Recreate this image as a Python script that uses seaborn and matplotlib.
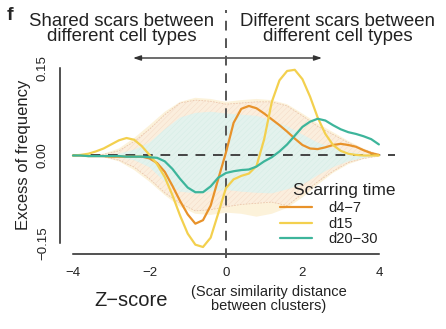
import numpy as np
import pandas as pd
import matplotlib
matplotlib.use("Agg")
import matplotlib.pyplot as plt
import seaborn as sns

# ---------------- data ----------------
z = [-4.0, -3.8, -3.6, -3.4, -3.2, -3.0, -2.8, -2.6, -2.4, -2.2, -2.0, -1.8, -1.6, -1.4,
     -1.2, -1.0, -0.8, -0.6, -0.4, -0.2, 0.0, 0.2, 0.4, 0.6, 0.8, 1.0, 1.2, 1.4, 1.6, 1.8,
     2.0, 2.2, 2.4, 2.6, 2.8, 3.0, 3.2, 3.4, 3.6, 3.8, 4.0]

d4_7 = [0.000, 0.000, -0.001, -0.001, -0.001, -0.002, -0.002, -0.002, -0.002, -0.002,
        -0.005, -0.013, -0.028, -0.052, -0.078, -0.101, -0.117, -0.111, -0.086, -0.040,
        0.005, 0.056, 0.080, 0.085, 0.081, 0.072, 0.062, 0.052, 0.041, 0.029,
        0.018, 0.012, 0.011, 0.014, 0.018, 0.020, 0.018, 0.015, 0.009, 0.004, 0.001]

d15 = [0.000, 0.001, 0.003, 0.007, 0.012, 0.019, 0.026, 0.030, 0.027, 0.016,
       0.001, -0.015, -0.037, -0.068, -0.103, -0.134, -0.153, -0.157, -0.141, -0.099,
       -0.056, -0.041, -0.035, -0.031, -0.018, 0.028, 0.092, 0.129, 0.145, 0.147,
       0.131, 0.101, 0.065, 0.037, 0.018, 0.008, 0.003, 0.001, 0.000, 0.000, 0.000]

d20_30 = [0.000, 0.000, -0.001, -0.001, -0.001, -0.001, -0.001, -0.002, -0.002, -0.002,
          -0.003, -0.004, -0.010, -0.023, -0.040, -0.055, -0.063, -0.063, -0.053, -0.038,
          -0.030, -0.027, -0.025, -0.024, -0.019, -0.010, -0.003, 0.007, 0.019, 0.034,
          0.049, 0.058, 0.063, 0.060, 0.052, 0.045, 0.040, 0.037, 0.033, 0.028, 0.019]

# null-distribution envelopes
z_band = [-4.0, -3.6, -3.2, -2.8, -2.4, -2.0, -1.6, -1.2, -0.8, -0.4, 0.0, 0.4, 0.8,
          1.2, 1.6, 2.0, 2.4, 2.8, 3.2, 3.6, 4.0]
d15_hi = [0.000, 0.000, 0.003, 0.012, 0.030, 0.052, 0.075, 0.092, 0.099, 0.097, 0.092,
          0.095, 0.097, 0.095, 0.088, 0.072, 0.055, 0.040, 0.025, 0.012, 0.002]
d15_lo = [0.000, 0.000, -0.003, -0.010, -0.025, -0.045, -0.068, -0.088, -0.100, -0.102,
          -0.098, -0.100, -0.105, -0.100, -0.090, -0.072, -0.050, -0.030, -0.015, -0.006, -0.001]
d4_7_hi = [0.000, 0.000, 0.002, 0.008, 0.024, 0.045, 0.070, 0.090, 0.095, 0.093, 0.088,
           0.090, 0.092, 0.092, 0.085, 0.068, 0.050, 0.036, 0.022, 0.010, 0.002]
d4_7_lo = [0.000, 0.000, -0.002, -0.008, -0.020, -0.040, -0.064, -0.082, -0.095, -0.093,
           -0.088, -0.084, -0.082, -0.080, -0.086, -0.066, -0.045, -0.027, -0.012, -0.005, -0.001]
d20_30_hi = [0.000, 0.000, 0.001, 0.003, 0.010, 0.022, 0.045, 0.065, 0.073, 0.075, 0.072,
             0.070, 0.068, 0.060, 0.050, 0.036, 0.022, 0.013, 0.006, 0.002, 0.000]
d20_30_lo = [0.000, 0.000, -0.001, -0.003, -0.008, -0.020, -0.045, -0.062, -0.065, -0.062,
             -0.059, -0.062, -0.064, -0.065, -0.058, -0.050, -0.034, -0.020, -0.010, -0.004, -0.001]

groups = ["d4\u22127", "d15", "d20\u221230"]
colors = ["#E8922A", "#F3D04E", "#3DB59B"]

x_ticks = [-4, -2, 0, 2, 4]
x_ticklabels = ["\u22124", "\u22122", "0", "2", "4"]
y_ticks = [-0.15, 0.0, 0.15]
y_ticklabels = ["\u22120.15", "0.00", "0.15"]

# ---------------- figure ----------------
sns.set_style("white")
plt.rcParams["font.family"] = ["Liberation Sans", "DejaVu Sans"]
plt.rcParams["hatch.linewidth"] = 0.3

W, H = 446, 329
fig = plt.figure(figsize=(W / 100, H / 100), dpi=100)
ax = fig.add_axes([60 / W, 75 / H, 338 / W, 197.6 / H])

xlim = (-4.34, 4.5)
ylim = (-0.169, 0.17)

# envelopes
ax.fill_between(z_band, d15_lo, d15_hi, facecolor="#FCF2DA", edgecolor="none", lw=0, zorder=1)
ax.fill_between(z_band, d4_7_lo, d4_7_hi, facecolor="#FBEEDD", edgecolor="#F4D8C4",
                hatch="//////", lw=0, zorder=2)
ax.plot(z_band, d4_7_hi, color="#EBC6AC", lw=0.6, ls=(0, (2, 1.5)), zorder=2.5)
ax.plot(z_band, d4_7_lo, color="#EBC6AC", lw=0.6, ls=(0, (2, 1.5)), zorder=2.5)
ax.fill_between(z_band, d20_30_lo, d20_30_hi, facecolor="#E3F2ED", edgecolor="#D2ECE3",
                hatch="//////", lw=0, zorder=3)

# reference lines
ax.plot([-4, 4.42], [0, 0], color="#444444", lw=1.4, ls=(0, (5, 4)), zorder=4)
ax.plot([0, 0], [-0.176, 0.25], color="#555555", lw=1.4, ls=(0, (5, 4)),
        zorder=4, clip_on=False)

# curves
df = pd.DataFrame({
    "z": z * 3,
    "value": d4_7 + d15 + d20_30,
    "group": [groups[0]] * len(z) + [groups[1]] * len(z) + [groups[2]] * len(z),
})
sns.lineplot(data=df, x="z", y="value", hue="group", hue_order=groups,
             palette=dict(zip(groups, colors)), lw=1.6, ax=ax, zorder=5,
             legend=True)

ax.set_xlim(*xlim)
ax.set_ylim(*ylim)

# axes styling (R-like)
for s in ["top", "right"]:
    ax.spines[s].set_visible(False)
ax.spines["left"].set_bounds(-0.15, 0.15)
ax.spines["bottom"].set_bounds(-4, 4)
for s in ["left", "bottom"]:
    ax.spines[s].set_linewidth(1.1)
    ax.spines[s].set_color("#222222")

ax.set_xticks(x_ticks)
ax.set_xticklabels(x_ticklabels)
ax.set_yticks(y_ticks)
ax.set_yticklabels(y_ticklabels, rotation=90, va="center")
ax.tick_params(axis="both", direction="out", length=4, width=1.1, color="#222222",
               labelsize=9.5, labelcolor="#222222")
ax.tick_params(axis="x", pad=5)
ax.tick_params(axis="y", pad=4)
ax.set_xlabel("")
ax.set_ylabel("Excess of frequency", fontsize=12, color="#222222", labelpad=4)

# legend (title drawn separately to reproduce the gap)
leg = ax.legend(loc="upper left", bbox_to_anchor=(280 / W, 1 - 201 / H),
                bbox_transform=fig.transFigure,
                frameon=False, fontsize=10.5, handlelength=2.2,
                handletextpad=1.1, labelspacing=0.12, borderaxespad=0, borderpad=0)
for t in leg.get_texts():
    t.set_color("#222222")
fig.text(344 / W, 1 - 190 / H, "Scarring time", fontsize=12.5, ha="center", va="center",
         color="#222222")

# x label parts
fig.text(131 / W, 1 - 300 / H, "Z\u2212score", fontsize=14.5, ha="center", va="center",
         color="#222222")
fig.text(269 / W, 1 - 299 / H, "(Scar similarity distance\nbetween clusters)", fontsize=10.5,
         ha="center", va="center", linespacing=0.95, color="#222222")

# top annotations
fig.text(10 / W, 1 - 15 / H, "f", fontsize=14, fontweight="bold", ha="center", va="center")
fig.text(122 / W, 1 - 29 / H, "Shared scars between\ndifferent cell types", fontsize=13.4,
         ha="center", va="center", linespacing=0.9, color="#222222")
fig.text(338 / W, 1 - 29 / H, "Different scars between\ndifferent cell types", fontsize=13.4,
         ha="center", va="center", linespacing=0.9, color="#222222")
ax.annotate("", xy=(322 / W, 1 - 58 / H), xytext=(133 / W, 1 - 58 / H),
            xycoords="figure fraction", textcoords="figure fraction",
            arrowprops=dict(arrowstyle="<|-|>,head_length=0.45,head_width=0.15",
                            lw=1.0, color="#333333", shrinkA=0, shrinkB=0))

fig.savefig("out.png", dpi=100)
